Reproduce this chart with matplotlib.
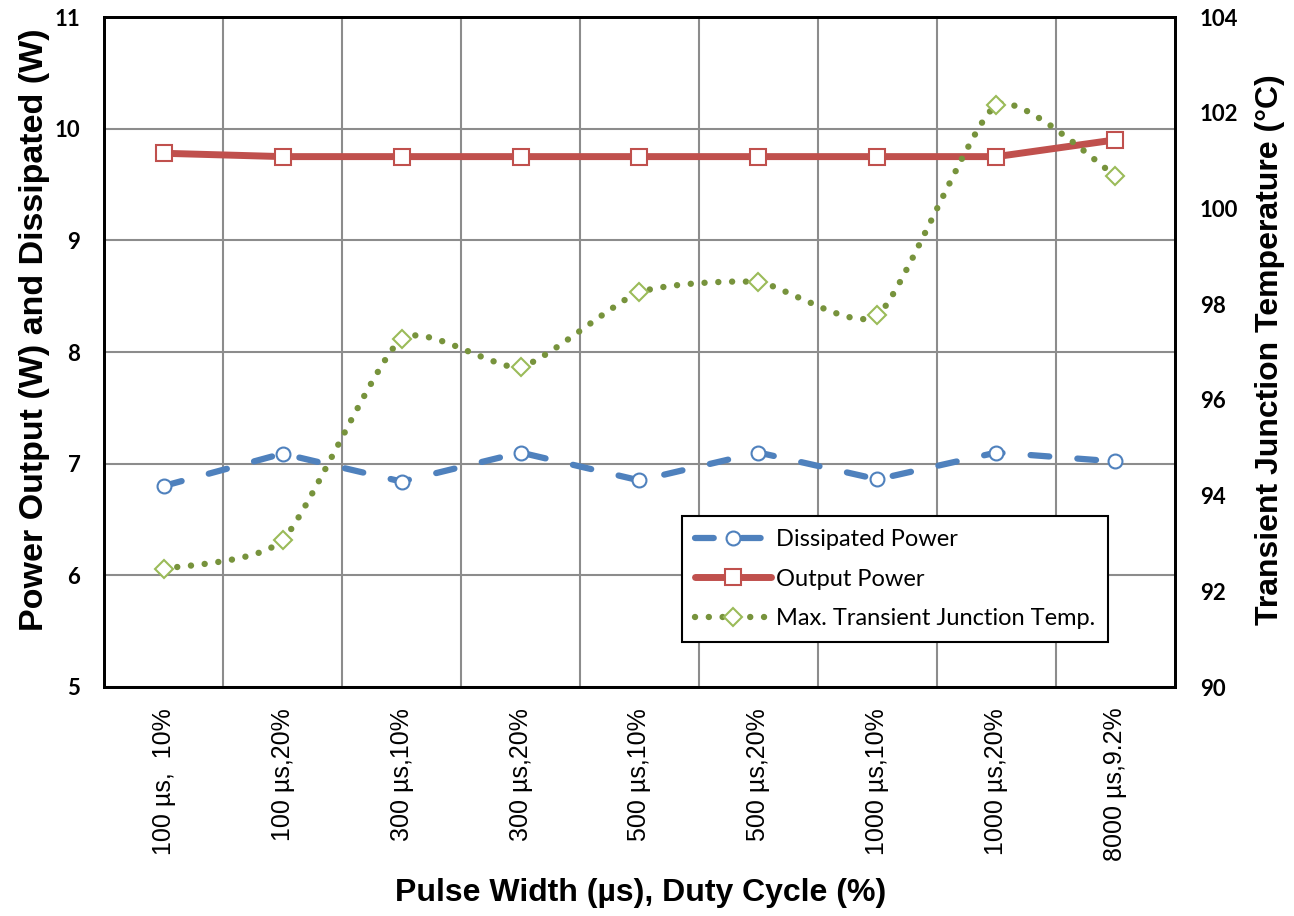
import matplotlib
matplotlib.use("Agg")
import matplotlib.pyplot as plt
from matplotlib.path import Path
from matplotlib.patches import PathPatch
from matplotlib.lines import Line2D

# data
categories = ["100 µs,  10%", "100 µs,20%", "300 µs,10%", "300 µs,20%", "500 µs,10%",
              "500 µs,20%", "1000 µs,10%", "1000 µs,20%", "8000 µs,9.2%"]
dissipated = [6.80, 7.09, 6.84, 7.10, 6.85, 7.10, 6.86, 7.10, 7.02]
output = [9.78, 9.75, 9.75, 9.75, 9.75, 9.75, 9.75, 9.75, 9.90]
temp = [92.47, 93.07, 97.27, 96.69, 98.25, 98.46, 97.77, 102.16, 100.68]

BLUE = "#4F81BD"
RED = "#C0504D"
GREEN_DOT = "#77933C"
GREEN_MK = "#9BBB59"


def smooth_path(xs, ys, k=0.1):
    # Excel-like smoothed line: cubic bezier through the points
    n = len(xs)
    verts = [(xs[0], ys[0])]
    codes = [Path.MOVETO]
    for i in range(n - 1):
        i0 = max(i - 1, 0)
        i3 = min(i + 2, n - 1)
        c1 = (xs[i] + (xs[i + 1] - xs[i0]) * k, ys[i] + (ys[i + 1] - ys[i0]) * k)
        c2 = (xs[i + 1] - (xs[i3] - xs[i]) * k, ys[i + 1] - (ys[i3] - ys[i]) * k)
        verts += [c1, c2, (xs[i + 1], ys[i + 1])]
        codes += [Path.CURVE4] * 3
    return Path(verts, codes)


fig = plt.figure(figsize=(12.94, 9.16), dpi=100)
ax = fig.add_axes([0.0804, 0.25, 0.8276, 0.7314])
ax2 = ax.twinx()

x = list(range(len(categories)))

ax.plot(x, dissipated, color=BLUE, lw=4.5, ls=(0, (3, 4.5)), dash_capstyle="round",
        marker="o", ms=10, mfc="white", mec=BLUE, mew=1.5, zorder=3)
ax.plot(x, output, color=RED, lw=5, solid_capstyle="round",
        marker="s", ms=12, mfc="white", mec=RED, mew=1.5, zorder=3)

patch = PathPatch(smooth_path(x, temp), fill=False, edgecolor=GREEN_DOT, lw=4.6,
                  ls=(0, (0.01, 2.15)), capstyle="round", transform=ax2.transData, zorder=3)
ax2.add_patch(patch)
ax2.plot(x, temp, ls="none", marker="D", ms=9, mfc="white", mec=GREEN_MK, mew=1.5, zorder=4)

ax.set_xlim(-0.5, len(categories) - 0.5)
ax.set_ylim(5, 11)
ax2.set_ylim(90, 104)
ax.set_yticks(range(5, 12))
ax2.set_yticks(range(90, 105, 2))

ax.set_xticks(x)
ax.set_xticklabels(categories, rotation=90, fontsize=18, family="Liberation Sans")
ax.set_xticks([i + 0.5 for i in x[:-1]], minor=True)
ax.tick_params(axis="x", which="both", length=0, pad=15)
ax.grid(False)
ax.grid(True, which="minor", axis="x", color="#8C8C8C", lw=1.5)
ax.grid(True, which="major", axis="y", color="#8C8C8C", lw=1.5)
ax.set_axisbelow(True)

ax.tick_params(axis="y", length=0, pad=17)
ax2.tick_params(axis="y", length=0, pad=18)
for lab in ax.get_yticklabels() + ax2.get_yticklabels():
    lab.set_fontsize(16)
    lab.set_fontweight("bold")
    lab.set_family("Lato")

for a in (ax, ax2):
    for s in a.spines.values():
        s.set_color("black")
        s.set_linewidth(2)

ax.set_ylabel("Power Output (W) and Dissipated (W)", fontsize=24.5, fontweight="bold",
              family="Liberation Sans")
ax.yaxis.set_label_coords(-0.050, 0.533)
ax2.set_ylabel("Transient Junction Temperature (°C)", fontsize=23, fontweight="bold",
               family="Liberation Sans")
ax2.yaxis.set_label_coords(1.075, 0.503)
ax.set_xlabel("Pulse Width (µs), Duty Cycle (%)", fontsize=23, fontweight="bold",
              family="Liberation Sans")
ax.xaxis.set_label_coords(0.501, -0.285)

handles = [
    Line2D([], [], color=BLUE, lw=4.5, ls=(0, (3, 4.5)), dash_capstyle="round",
           marker="o", ms=10, mfc="white", mec=BLUE, mew=1.5),
    Line2D([], [], color=RED, lw=5, solid_capstyle="round",
           marker="s", ms=12, mfc="white", mec=RED, mew=1.5),
    Line2D([], [], color=GREEN_DOT, lw=4.6, ls=(0, (0.01, 2.15)), dash_capstyle="round",
           marker="D", ms=9, mfc="white", mec=GREEN_MK, mew=1.5),
]
labels = ["Dissipated Power", "Output Power", "Max. Transient Junction Temp."]
leg = ax2.legend(handles, labels, loc="upper left", bbox_to_anchor=(0.54, 0.255),
                 prop={"family": "Lato", "size": 17}, frameon=True, fancybox=False,
                 edgecolor="black", framealpha=1, handlelength=3.2, borderpad=0.55,
                 labelspacing=0.78, handletextpad=0.2, borderaxespad=0)
leg.get_frame().set_linewidth(1.5)

fig.savefig("out.png", dpi=100)
